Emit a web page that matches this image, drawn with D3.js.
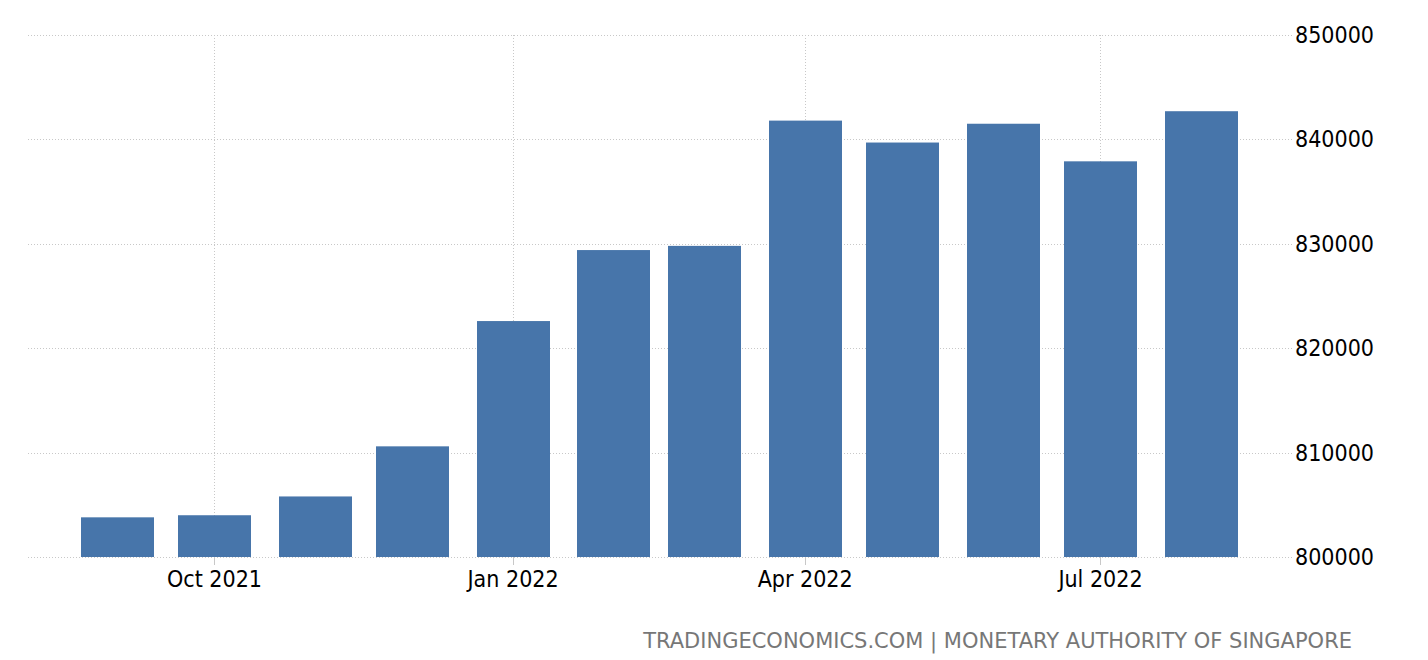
<!DOCTYPE html>
<html>
<head>
<meta charset="utf-8">
<script src="https://cdn.jsdelivr.net/npm/d3@7"></script>
<style>
  body { margin: 0; background: #fff; }
  text { font-family: "DejaVu Sans Condensed", "DejaVu Sans", sans-serif; }
</style>
</head>
<body>
<div id="chart"></div>
<script>
"use strict";

// monthly figures, Sep 2021 .. Aug 2022
var months = ["2021-09", "2021-10", "2021-11", "2021-12", "2022-01", "2022-02",
  "2022-03", "2022-04", "2022-05", "2022-06", "2022-07", "2022-08"];
var values = [803800, 804000, 805800, 810600, 822600, 829400,
  829800, 841800, 839700, 841500, 837900, 842700];

var xTickDates = ["2021-10", "2022-01", "2022-04", "2022-07"];
var xTickLabels = ["Oct 2021", "Jan 2022", "Apr 2022", "Jul 2022"];
var yTicks = [800000, 810000, 820000, 830000, 840000, 850000];

var width = 1428,
  height = 660;

var parse = d3.timeParse("%Y-%m");

var plotLeft = 28,
  plotRight = 1292,
  plotTop = 35,
  plotBottom = 557;

// time scale, anchored on two tick months
var x = d3.scaleTime()
  .domain([parse("2021-10"), parse("2022-07")])
  .range([214.5, 1100.5]);

var y = d3.scaleLinear()
  .domain([800000, 850000])
  .range([plotBottom, plotTop]);

var svg = d3.select("#chart")
  .append("svg")
  .attr("width", width)
  .attr("height", height);

// horizontal grid
svg.append("g")
  .selectAll("line")
  .data(yTicks)
  .enter()
  .append("line")
  .attr("x1", plotLeft)
  .attr("x2", plotRight)
  .attr("y1", d => Math.round(y(d)) + 0.5)
  .attr("y2", d => Math.round(y(d)) + 0.5)
  .attr("stroke", "#c8c8c8")
  .attr("stroke-dasharray", "1,2");

// vertical grid
svg.append("g")
  .selectAll("line")
  .data(xTickDates)
  .enter()
  .append("line")
  .attr("x1", d => Math.floor(x(parse(d))) + 0.5)
  .attr("x2", d => Math.floor(x(parse(d))) + 0.5)
  .attr("y1", plotTop)
  .attr("y2", plotBottom)
  .attr("stroke", "#c8c8c8")
  .attr("stroke-dasharray", "1,2");

// bars
var barWidth = 73;
svg.append("g")
  .selectAll("rect")
  .data(values)
  .enter()
  .append("rect")
  .attr("x", (d, i) => Math.round(x(parse(months[i])) - barWidth / 2))
  .attr("width", barWidth)
  .attr("y", d => y(d))
  .attr("height", d => plotBottom - y(d))
  .attr("fill", "#4775aa");

// x axis ticks + labels
var xAxis = svg.append("g");
xAxis.selectAll("line")
  .data(xTickDates)
  .enter()
  .append("line")
  .attr("x1", d => Math.floor(x(parse(d))) + 0.5)
  .attr("x2", d => Math.floor(x(parse(d))) + 0.5)
  .attr("y1", plotBottom)
  .attr("y2", plotBottom + 8)
  .attr("stroke", "#c8c8c8");

xAxis.selectAll("text")
  .data(xTickDates)
  .enter()
  .append("text")
  .attr("x", d => x(parse(d)))
  .attr("y", plotBottom + 30)
  .attr("text-anchor", "middle")
  .style("font-size", "23px")
  .attr("fill", "#000")
  .text((d, i) => xTickLabels[i]);

// y axis labels (right side)
svg.append("g")
  .selectAll("text")
  .data(yTicks)
  .enter()
  .append("text")
  .attr("x", 1295)
  .attr("y", d => y(d) + 8)
  .style("font-size", "23px")
  .attr("fill", "#000")
  .text(d => d3.format("d")(d));

// source line
svg.append("text")
  .attr("x", 1352)
  .attr("y", 648)
  .attr("text-anchor", "end")
  .style("font-family", "'DejaVu Sans', sans-serif")
  .style("font-size", "21px")
  .attr("fill", "#777")
  .text("TRADINGECONOMICS.COM | MONETARY AUTHORITY OF SINGAPORE");
</script>
</body>
</html>
